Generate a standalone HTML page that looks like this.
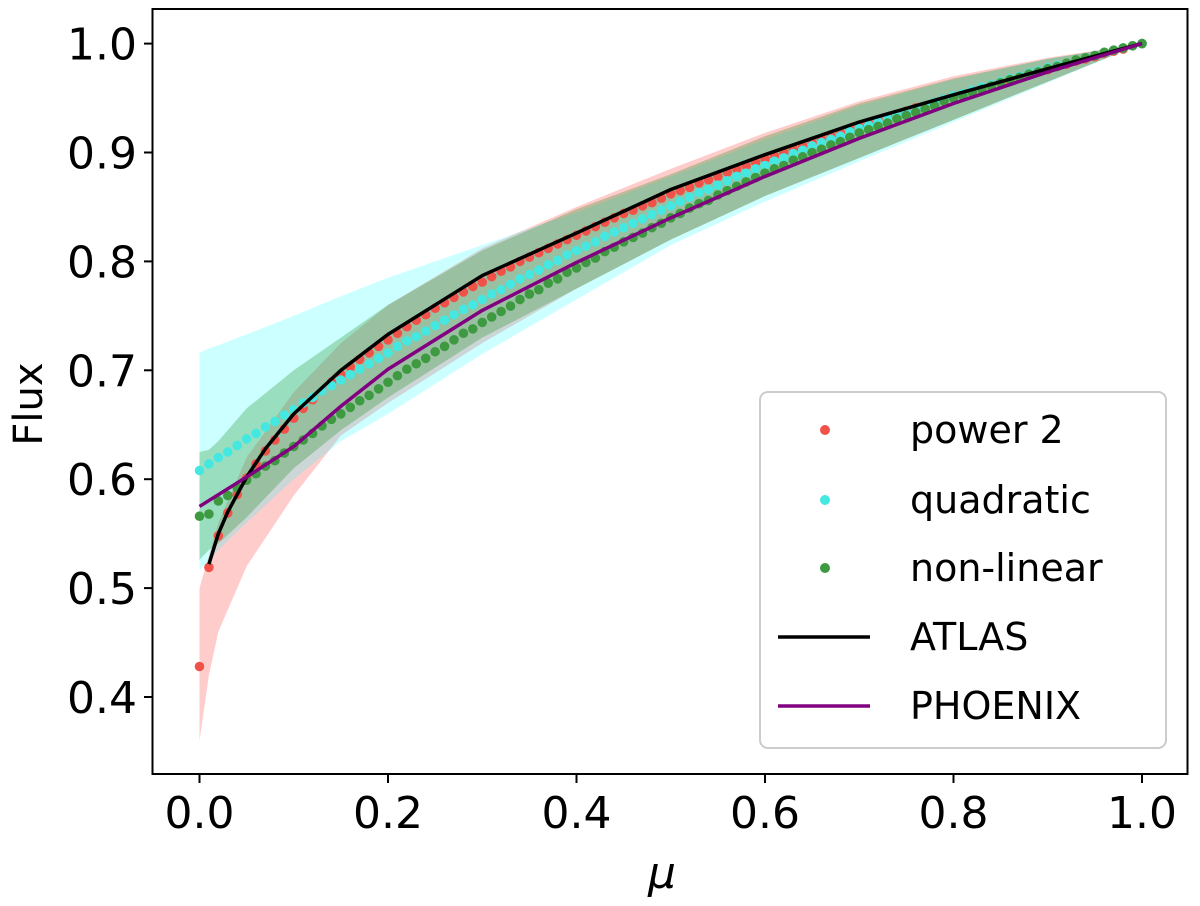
<!DOCTYPE html>
<html><head><meta charset="utf-8"><style>
body{margin:0;background:#fff}
svg{display:block;font-family:"DejaVu Sans","Liberation Sans",sans-serif}
</style></head><body>
<svg id="chart" width="1200" height="906" viewBox="0 0 1200 906"></svg>
<script>
const mu = Array.from({length:101},(_,i)=>i/100);
const power2 = [.428,.519,.548,.569,.586,.601,.614,.626,.636,.646,.656,.665,.673,.681,.689,.696,.703,.710,.716,.722,.728,.734,.740,.746,.751,.757,.762,.767,.772,.777,.781,.786,.791,.795,.800,.804,.808,.812,.816,.820,.824,.828,.832,.836,.840,.844,.847,.851,.854,.858,.862,.865,.868,.872,.875,.878,.882,.885,.888,.891,.894,.897,.900,.903,.906,.909,.912,.915,.918,.921,.924,.927,.930,.932,.935,.938,.941,.943,.946,.949,.951,.954,.956,.959,.961,.964,.966,.969,.971,.974,.976,.979,.981,.984,.986,.988,.991,.993,.995,.998,1.000];
const quadratic = [.608,.614,.620,.625,.631,.637,.642,.648,.653,.659,.664,.670,.675,.681,.686,.691,.696,.701,.706,.711,.716,.722,.727,.731,.736,.741,.746,.751,.756,.760,.765,.770,.774,.779,.784,.788,.792,.797,.801,.806,.810,.814,.818,.823,.827,.831,.835,.839,.843,.847,.851,.855,.859,.863,.866,.870,.874,.878,.881,.885,.888,.892,.895,.899,.902,.906,.909,.912,.915,.919,.922,.925,.928,.931,.934,.937,.940,.943,.946,.949,.952,.954,.957,.960,.962,.965,.968,.970,.973,.975,.978,.980,.982,.985,.987,.989,.992,.994,.996,.998,1.000];
const nonlinear = [.566,.568,.580,.585,.592,.599,.605,.612,.617,.624,.630,.636,.642,.649,.655,.660,.666,.672,.677,.683,.689,.695,.701,.706,.711,.717,.722,.728,.734,.738,.744,.749,.754,.759,.765,.770,.774,.780,.784,.790,.794,.799,.803,.809,.813,.818,.822,.826,.831,.835,.840,.844,.849,.853,.856,.861,.865,.869,.873,.877,.881,.885,.888,.893,.896,.900,.903,.907,.910,.914,.918,.921,.924,.927,.931,.934,.937,.940,.943,.947,.950,.952,.955,.958,.961,.964,.967,.969,.972,.974,.977,.979,.982,.985,.987,.989,.992,.994,.996,.998,1.000];
const atlasMu = [.01,.02,.03,.05,.07,.1,.15,.2,.3,.4,.5,.6,.7,.8,.9,1];
const atlasVal = [.522,.55,.57,.602,.628,.66,.70,.733,.787,.826,.866,.898,.928,.953,.977,1];
const phoenixMu = [0,.05,.1,.15,.2,.3,.4,.5,.6,.7,.8,.9,1];
const phoenixVal = [.575,.602,.630,.667,.701,.755,.799,.840,.878,.913,.945,.974,1.0];
const bandMu = [0,.01,.02,.05,.1,.15,.2,.3,.4,.5,.6,.7,.8,.9,1];
const redLo = [.36,.42,.46,.52,.585,.64,.67,.725,.775,.82,.86,.895,.93,.965,1];
const redHi = [.50,.53,.56,.62,.68,.725,.76,.812,.85,.885,.918,.947,.970,.987,1];
const cyanLo = [.517,.525,.535,.56,.60,.635,.66,.715,.765,.815,.855,.892,.928,.964,1];
const cyanHi = [.716,.72,.723,.733,.75,.768,.785,.815,.845,.878,.912,.943,.967,.986,1];
const greenLo = [.526,.535,.541,.565,.61,.645,.675,.73,.775,.82,.86,.895,.93,.965,1];
const greenHi = [.625,.627,.635,.665,.70,.73,.76,.81,.848,.88,.915,.945,.968,.986,1];
const xTicks = [0,0.2,0.4,0.6,0.8,1.0];
const xTickLabels = ["0.0","0.2","0.4","0.6","0.8","1.0"];
const yTicks = [0.4,0.5,0.6,0.7,0.8,0.9,1.0];
const yTickLabels = ["0.4","0.5","0.6","0.7","0.8","0.9","1.0"];

const NS="http://www.w3.org/2000/svg";
const svg=document.getElementById('chart');
const X=v=>199.5+v*942.5;
const Y=v=>43.6+(1-v)*1089;
function mk(tag,attrs,parent){const e=document.createElementNS(NS,tag);for(const k in attrs)e.setAttribute(k,attrs[k]);(parent||svg).appendChild(e);return e;}

function band(lo,hi,fill,name){
  let d='M'+bandMu.map((m,i)=>X(m)+','+Y(hi[i])).join('L');
  for(let i=bandMu.length-1;i>=0;i--) d+='L'+X(bandMu[i])+','+Y(lo[i]);
  const p=mk('path',{d:d+'Z',fill:fill,stroke:'none'});
  
  
}
band(redLo,redHi,'rgba(255,0,0,0.2)','power2-band');
band(cyanLo,cyanHi,'rgba(0,255,255,0.2)','quadratic-band');
band(greenLo,greenHi,'rgba(0,128,0,0.25)','nonlinear-band');

function dots(vals,color,name){
  const g=mk('g',{});
  
  
  vals.forEach((v,i)=>{const c=mk('circle',{cx:X(mu[i]),cy:Y(v),r:4.8,fill:color},g);
    
    });
}
dots(power2,'#f0524a','power2-series');
dots(quadratic,'#45e8e0','quadratic-series');
dots(nonlinear,'#3e9a40','nonlinear-series');

function line(ms,vs,color,name){
  const p=mk('polyline',{points:ms.map((m,i)=>X(m)+','+Y(vs[i])).join(' '),fill:'none',stroke:color,'stroke-width':3.5,'stroke-linejoin':'round'});
  
  
}
line(atlasMu,atlasVal,'#000','atlas-line');
line(phoenixMu,phoenixVal,'#800080','phoenix-line');

const fr=mk('rect',{x:152.5,y:9,width:1035,height:765,fill:'none',stroke:'#000','stroke-width':2});



xTicks.forEach((t,i)=>{
  mk('line',{x1:X(t),x2:X(t),y1:774,y2:783,stroke:'#000','stroke-width':2});
  const tx=mk('text',{x:X(t),y:828,'font-size':44,'text-anchor':'middle'});
  tx.textContent=xTickLabels[i];
  
  
});
yTicks.forEach((t,i)=>{
  mk('line',{x1:144,x2:152,y1:Y(t),y2:Y(t),stroke:'#000','stroke-width':2});
  const tx=mk('text',{x:137,y:Y(t)+16,'font-size':44,'text-anchor':'end'});
  tx.textContent=yTickLabels[i];
  
  
});
</script>
<svg width="1200" height="906" style="position:absolute;left:0;top:0" font-family="DejaVu Sans, Liberation Sans, sans-serif">
  <text x="662" y="888" font-size="44" font-style="italic" text-anchor="middle">μ</text>
  <text x="0" y="0" font-size="40" text-anchor="middle" transform="translate(42,404) rotate(-90)">Flux</text>
  <g>
    <rect x="760" y="392" width="406" height="356" rx="8" fill="#fff" fill-opacity="0.8" stroke="#ccc" stroke-width="2"/>
    <g>
      <circle cx="825" cy="430" r="5" fill="#f0524a"/><text x="910" y="443" font-size="38">power 2</text></g>
    <g>
      <circle cx="825" cy="500" r="5" fill="#45e8e0"/><text x="910" y="513" font-size="38">quadratic</text></g>
    <g>
      <circle cx="825" cy="568" r="5" fill="#3e9a40"/><text x="910" y="581" font-size="38">non-linear</text></g>
    <g>
      <line x1="778" y1="637" x2="870" y2="637" stroke="#000" stroke-width="3.5"/><text x="910" y="650" font-size="38">ATLAS</text></g>
    <g>
      <line x1="778" y1="706" x2="870" y2="706" stroke="#800080" stroke-width="3.5"/><text x="910" y="719" font-size="38">PHOENIX</text></g>
  </g>
</svg>
</body></html>
